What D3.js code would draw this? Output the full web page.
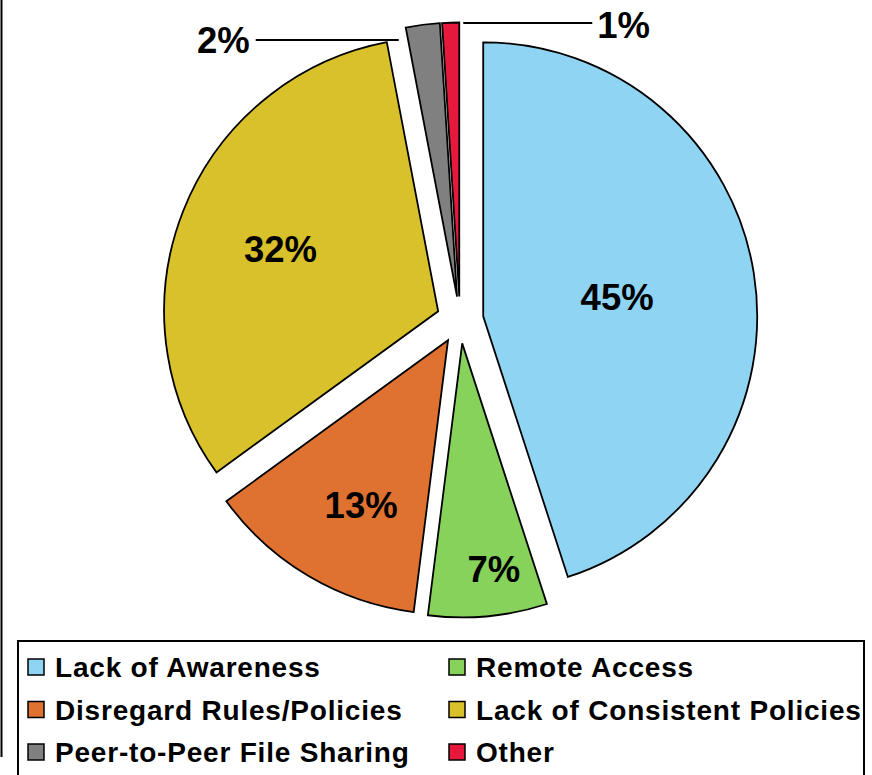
<!DOCTYPE html>
<html><head><meta charset="utf-8">
<script src="https://cdn.jsdelivr.net/npm/d3@7"></script>
<style>body{margin:0;background:#fff}svg{display:block}</style>
</head><body>
<svg id="chart" width="872" height="775"></svg>
<script>
const categories = ["Lack of Awareness","Remote Access","Disregard Rules/Policies","Lack of Consistent Policies","Peer-to-Peer File Sharing","Other"];
const values = [45, 7, 13, 32, 2, 1];
const labels = ["45%","7%","13%","32%","2%","1%"];
const colors = ["#8FD4F2","#86D25A","#DF7231","#D8C12B","#808080","#E6193C"];

const W = 872, H = 775;
const cx = 460, cy = 320, R = 274, explode = 23.5;
const labelR = [0.494, 0.831, 0.680, 0.619];
const labelAngOff = [0.6, -2.6, -2.8, 0]; // degrees
const font = "'Liberation Sans', Arial, sans-serif";

const svg = d3.select("#chart");
svg.append("rect").attr("width",W).attr("height",H).attr("fill","#fff");
svg.append("line").attr("x1",1.5).attr("x2",1.5).attr("y1",0).attr("y2",757).attr("stroke","#000").attr("stroke-width",2);

const pie = d3.pie().sort(null).value(d=>d).startAngle(0).endAngle(2*Math.PI);
const arcs = pie(values);
const arc = d3.arc().innerRadius(0).outerRadius(R);
const g = svg.append("g").attr("transform",`translate(${cx},${cy})`);

function off(a){ const m=(a.startAngle+a.endAngle)/2; return [Math.sin(m)*explode, -Math.cos(m)*explode]; }

arcs.forEach((a,i)=>{
  const [ox,oy]=off(a);
  g.append("path").attr("d",arc(a)).attr("transform",`translate(${ox},${oy})`)
    .attr("fill",colors[i]).attr("stroke","#000").attr("stroke-width",1.8).attr("stroke-linejoin","miter");
});

arcs.slice(0,4).forEach((a,i)=>{
  const [ox,oy]=off(a); const m=(a.startAngle+a.endAngle)/2 + labelAngOff[i]*Math.PI/180;
  g.append("text").attr("x",ox+Math.sin(m)*R*labelR[i]).attr("y",oy-Math.cos(m)*R*labelR[i])
   .attr("dy","0.36em").attr("text-anchor","middle").attr("font-family",font).attr("font-weight","bold")
   .attr("font-size",36.5).attr("fill","#000").text(labels[i]);
});

{
  const a=arcs[4]; const [ox,oy]=off(a);
  const px=ox+Math.sin(a.startAngle)*R, py=oy-Math.cos(a.startAngle)*R;
  const y=py+12.5, x2=px-7, x1=x2-143;
  g.append("line").attr("x1",x1).attr("x2",x2).attr("y1",y).attr("y2",y).attr("stroke","#000").attr("stroke-width",2);
  g.append("text").attr("x",x1-6).attr("y",y).attr("dy","0.36em").attr("text-anchor","end")
   .attr("font-family",font).attr("font-weight","bold").attr("font-size",36.5).text(labels[4]);
}
{
  const a=arcs[5]; const [ox,oy]=off(a);
  const px=ox+Math.sin(a.endAngle)*R, py=oy-Math.cos(a.endAngle)*R;
  const y=py+0.5, x1=px+4, x2=x1+129;
  g.append("line").attr("x1",x1).attr("x2",x2).attr("y1",y).attr("y2",y).attr("stroke","#000").attr("stroke-width",2);
  g.append("text").attr("x",x2+5).attr("y",y+2).attr("dy","0.36em").attr("text-anchor","start")
   .attr("font-family",font).attr("font-weight","bold").attr("font-size",36.5).text(labels[5]);
}

svg.append("rect").attr("x",18).attr("y",641).attr("width",846).attr("height",150)
  .attr("fill","#fff").attr("stroke","#000").attr("stroke-width",2);
const colX=[28,449], rowY=[667,709.5,752];
categories.forEach((c,i)=>{
  const col=i%2, row=Math.floor(i/2);
  const lg=svg.append("g").attr("transform",`translate(${colX[col]},${rowY[row]})`);
  lg.append("rect").attr("x",0).attr("y",-8).attr("width",16).attr("height",16)
    .attr("fill",colors[i]).attr("stroke","#000").attr("stroke-width",1.5);
  lg.append("text").attr("x",27).attr("y",0).attr("dy","0.36em").attr("font-family",font)
    .attr("font-weight","bold").attr("font-size",28).attr("letter-spacing","0.8px").attr("fill","#000").text(c);
});
</script>
</body></html>
